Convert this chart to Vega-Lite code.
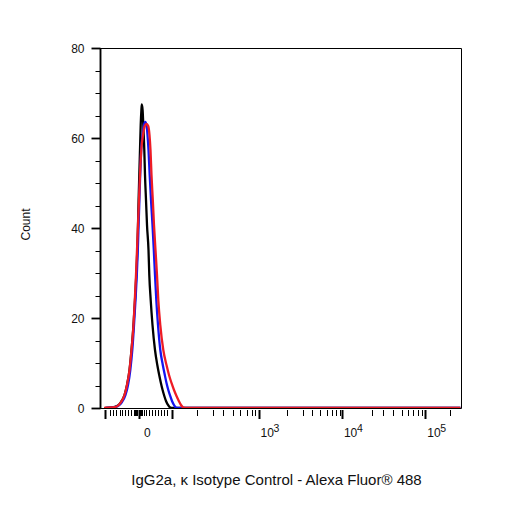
{
  "$schema": "https://vega.github.io/schema/vega-lite/v6.json",
  "width": 361,
  "height": 360,
  "autosize": "none",
  "padding": {"left": 100, "top": 48, "right": 45, "bottom": 98},
  "background": "white",
  "config": {
    "view": {"stroke": "#000000", "strokeWidth": 1},
    "font": "Liberation Sans",
    "axis": {"labelFont": "Liberation Sans", "titleFont": "Liberation Sans", "labelColor": "#111111", "titleColor": "#111111", "titleFontWeight": "normal", "grid": false, "tickColor": "#000000", "domainColor": "#000000"}
  },
  "data": {
    "values": [
      {"series": "black", "x": 1.1595, "count": 0},
      {"series": "black", "x": 1.2434, "count": 0.11},
      {"series": "black", "x": 1.3034, "count": 0.44},
      {"series": "black", "x": 1.3513, "count": 1.33},
      {"series": "black", "x": 1.3933, "count": 2.89},
      {"series": "black", "x": 1.4233, "count": 5.11},
      {"series": "black", "x": 1.4532, "count": 8.44},
      {"series": "black", "x": 1.4772, "count": 12.89},
      {"series": "black", "x": 1.5012, "count": 18.44},
      {"series": "black", "x": 1.5192, "count": 24},
      {"series": "black", "x": 1.5348, "count": 29.56},
      {"series": "black", "x": 1.5468, "count": 35.11},
      {"series": "black", "x": 1.5552, "count": 40.67},
      {"series": "black", "x": 1.5624, "count": 46.22},
      {"series": "black", "x": 1.5707, "count": 51.78},
      {"series": "black", "x": 1.5791, "count": 57.33},
      {"series": "black", "x": 1.5875, "count": 62.89},
      {"series": "black", "x": 1.5959, "count": 66.22},
      {"series": "black", "x": 1.6007, "count": 67.44},
      {"series": "black", "x": 1.6103, "count": 66.22},
      {"series": "black", "x": 1.6187, "count": 62.89},
      {"series": "black", "x": 1.6307, "count": 57.33},
      {"series": "black", "x": 1.6391, "count": 51.78},
      {"series": "black", "x": 1.6511, "count": 46.22},
      {"series": "black", "x": 1.6631, "count": 40.67},
      {"series": "black", "x": 1.6811, "count": 35.11},
      {"series": "black", "x": 1.6906, "count": 29.56},
      {"series": "black", "x": 1.7074, "count": 24},
      {"series": "black", "x": 1.729, "count": 18.44},
      {"series": "black", "x": 1.759, "count": 12.89},
      {"series": "black", "x": 1.7866, "count": 9.56},
      {"series": "black", "x": 1.8094, "count": 7.33},
      {"series": "black", "x": 1.8297, "count": 5.56},
      {"series": "black", "x": 1.8501, "count": 4},
      {"series": "black", "x": 1.8705, "count": 2.67},
      {"series": "black", "x": 1.8909, "count": 1.56},
      {"series": "black", "x": 1.9149, "count": 0.67},
      {"series": "black", "x": 1.9424, "count": 0.11},
      {"series": "black", "x": 1.9748, "count": 0},
      {"series": "black", "x": 5.42, "count": 0},
      {"series": "blue", "x": 1.1715, "count": 0},
      {"series": "blue", "x": 1.2554, "count": 0.11},
      {"series": "blue", "x": 1.3153, "count": 0.44},
      {"series": "blue", "x": 1.3633, "count": 1.33},
      {"series": "blue", "x": 1.4053, "count": 2.89},
      {"series": "blue", "x": 1.4353, "count": 5.11},
      {"series": "blue", "x": 1.4628, "count": 8.44},
      {"series": "blue", "x": 1.4868, "count": 12.89},
      {"series": "blue", "x": 1.5072, "count": 18.44},
      {"series": "blue", "x": 1.5252, "count": 24},
      {"series": "blue", "x": 1.5408, "count": 29.56},
      {"series": "blue", "x": 1.5528, "count": 35.11},
      {"series": "blue", "x": 1.5624, "count": 40.67},
      {"series": "blue", "x": 1.5719, "count": 46.22},
      {"series": "blue", "x": 1.5815, "count": 51.78},
      {"series": "blue", "x": 1.5935, "count": 57.33},
      {"series": "blue", "x": 1.6091, "count": 60.67},
      {"series": "blue", "x": 1.6271, "count": 62.89},
      {"series": "blue", "x": 1.6415, "count": 63.56},
      {"series": "blue", "x": 1.6571, "count": 62.89},
      {"series": "blue", "x": 1.6691, "count": 60.67},
      {"series": "blue", "x": 1.6811, "count": 57.33},
      {"series": "blue", "x": 1.6954, "count": 51.78},
      {"series": "blue", "x": 1.711, "count": 46.22},
      {"series": "blue", "x": 1.729, "count": 40.67},
      {"series": "blue", "x": 1.7446, "count": 35.11},
      {"series": "blue", "x": 1.759, "count": 29.56},
      {"series": "blue", "x": 1.7746, "count": 24},
      {"series": "blue", "x": 1.795, "count": 18.44},
      {"series": "blue", "x": 1.8225, "count": 12.89},
      {"series": "blue", "x": 1.8525, "count": 9.56},
      {"series": "blue", "x": 1.8765, "count": 7.33},
      {"series": "blue", "x": 1.8969, "count": 5.56},
      {"series": "blue", "x": 1.9185, "count": 4},
      {"series": "blue", "x": 1.9412, "count": 2.67},
      {"series": "blue", "x": 1.9628, "count": 1.56},
      {"series": "blue", "x": 1.9868, "count": 0.67},
      {"series": "blue", "x": 2.0108, "count": 0.11},
      {"series": "blue", "x": 2.0468, "count": 0},
      {"series": "blue", "x": 5.42, "count": 0},
      {"series": "red", "x": 1.1475, "count": 0},
      {"series": "red", "x": 1.2314, "count": 0.11},
      {"series": "red", "x": 1.2998, "count": 0.33},
      {"series": "red", "x": 1.3513, "count": 1.33},
      {"series": "red", "x": 1.3933, "count": 2.89},
      {"series": "red", "x": 1.4233, "count": 5.11},
      {"series": "red", "x": 1.4532, "count": 8.44},
      {"series": "red", "x": 1.4772, "count": 12.89},
      {"series": "red", "x": 1.5012, "count": 18.44},
      {"series": "red", "x": 1.5168, "count": 24},
      {"series": "red", "x": 1.5312, "count": 29.56},
      {"series": "red", "x": 1.5432, "count": 35.11},
      {"series": "red", "x": 1.5552, "count": 40.67},
      {"series": "red", "x": 1.5671, "count": 46.22},
      {"series": "red", "x": 1.5791, "count": 51.78},
      {"series": "red", "x": 1.5947, "count": 57.33},
      {"series": "red", "x": 1.6151, "count": 60.67},
      {"series": "red", "x": 1.6367, "count": 62.67},
      {"series": "red", "x": 1.6571, "count": 63.11},
      {"series": "red", "x": 1.6775, "count": 62.67},
      {"series": "red", "x": 1.693, "count": 60.67},
      {"series": "red", "x": 1.705, "count": 57.33},
      {"series": "red", "x": 1.717, "count": 51.78},
      {"series": "red", "x": 1.7326, "count": 46.22},
      {"series": "red", "x": 1.747, "count": 40.67},
      {"series": "red", "x": 1.765, "count": 35.11},
      {"series": "red", "x": 1.783, "count": 29.56},
      {"series": "red", "x": 1.7986, "count": 24},
      {"series": "red", "x": 1.8225, "count": 18.44},
      {"series": "red", "x": 1.8585, "count": 12.89},
      {"series": "red", "x": 1.8969, "count": 9.56},
      {"series": "red", "x": 1.9269, "count": 7.33},
      {"series": "red", "x": 1.9568, "count": 5.56},
      {"series": "red", "x": 1.9868, "count": 4},
      {"series": "red", "x": 2.0168, "count": 2.67},
      {"series": "red", "x": 2.0444, "count": 1.56},
      {"series": "red", "x": 2.0707, "count": 0.67},
      {"series": "red", "x": 2.1007, "count": 0.11},
      {"series": "red", "x": 2.1427, "count": 0},
      {"series": "red", "x": 5.42, "count": 0}
    ]
  },
  "resolve": {"axis": {"x": "independent", "y": "independent"}},
  "layer": [
    {
      "mark": {"type": "line", "interpolate": "monotone", "strokeWidth": 2.3, "clip": true},
      "encoding": {
        "x": {
          "field": "x",
          "type": "quantitative",
          "scale": {"domain": [1.0995, 5.428], "nice": false, "zero": false},
          "axis": {
            "orient": "bottom",
            "title": "IgG2a, κ Isotype Control - Alexa Fluor® 488",
            "titleFontSize": 15,
            "titleX": 176,
            "titleY": 75,
            "titleBaseline": "alphabetic",
            "titleAnchor": "middle",
            "values": [1.1631, 1.5612, 1.9592, 3, 4, 5],
            "labelExpr": "datum.value == 1.5612 ? '0' : (datum.value == 3 || datum.value == 4 || datum.value == 5) ? '10' : ''",
            "labelOverlap": false,
            "labelFontSize": 12,
            "labelAlign": "left",
            "labelOffset": {"condition": {"test": "datum.value == 1.5612", "value": 5}, "value": 1.5},
            "labelPadding": 9,
            "domain": false,
            "offset": 1.5,
            "tickSize": 9,
            "tickWidth": 2
          }
        },
        "y": {
          "field": "count",
          "type": "quantitative",
          "scale": {"domain": [0, 80], "nice": false},
          "axis": {
            "orient": "left",
            "title": "Count",
            "titleFontSize": 12,
            "titleX": -75,
            "titleY": 176,
            "titleAngle": -90,
            "titleBaseline": "middle",
            "titleAnchor": "middle",
            "values": [0, 5, 10, 15, 20, 25, 30, 35, 40, 45, 50, 55, 60, 65, 70, 75, 80],
            "labelExpr": "datum.value % 20 == 0 ? datum.label : ''",
            "labelOverlap": false,
            "labelFontSize": 12,
            "labelPadding": 11,
            "domainWidth": 1.5,
            "tickSize": 5,
            "tickWidth": 1
          }
        },
        "color": {
          "field": "series",
          "type": "nominal",
          "scale": {"domain": ["black", "blue", "red"], "range": ["#000000", "#1414f0", "#ee1c25"]},
          "legend": null
        }
      }
    },
    {
      "mark": {"type": "line", "opacity": 0},
      "encoding": {
        "x": {
          "field": "x",
          "type": "quantitative",
          "scale": {"domain": [1.0995, 5.428], "nice": false, "zero": false},
          "axis": {
            "orient": "bottom",
            "title": null,
            "values": [1.2158, 1.2554, 1.295, 1.3357, 1.3669, 1.4029, 1.4388, 1.4712, 1.5012, 1.5192, 1.5336, 1.5468, 1.5755, 1.5887, 1.6031, 1.6211, 1.6511, 1.6906, 1.7266, 1.7626, 1.795, 1.8309, 1.8669, 1.9065, 2.259, 2.458, 2.5779, 2.6978, 2.7782, 2.8585, 2.9185, 2.958, 3.3381, 3.5372, 3.6379, 3.7374, 3.8177, 3.8777, 3.9293, 3.9772, 4.3573, 4.4964, 4.6163, 4.717, 4.7962, 4.8561, 4.9161, 4.9568, 5.2962],
            "labels": false,
            "domain": false,
            "offset": 1.5,
            "tickSize": 6,
            "tickWidth": 1
          }
        },
        "y": {"field": "count", "type": "quantitative", "axis": null}
      }
    },
    {
      "mark": {"type": "line", "opacity": 0},
      "encoding": {
        "x": {
          "field": "x",
          "type": "quantitative",
          "scale": {"domain": [1.0995, 5.428], "nice": false, "zero": false},
          "axis": {
            "orient": "bottom",
            "title": null,
            "values": [3, 4, 5],
            "labelExpr": "format(datum.value, 'd')",
            "labelFontSize": 10.5,
            "labelAlign": "left",
            "labelOffset": 14.5,
            "labelPadding": 14,
            "labelOverlap": false,
            "domain": false,
            "ticks": false,
            "offset": 1.5
          }
        },
        "y": {"field": "count", "type": "quantitative", "axis": null}
      }
    },
    {
      "mark": {"type": "line", "opacity": 0},
      "encoding": {
        "x": {
          "field": "x",
          "type": "quantitative",
          "scale": {"domain": [1.0995, 5.428], "nice": false, "zero": false},
          "axis": null
        },
        "y": {
          "field": "count",
          "type": "quantitative",
          "scale": {"domain": [0, 80], "nice": false},
          "axis": {
            "orient": "left",
            "title": "major",
            "titleOpacity": 0,
            "values": [0, 20, 40, 60, 80],
            "labelOpacity": 0,
            "labelFontSize": 12,
            "domainWidth": 1.5,
            "tickSize": 9,
            "tickWidth": 1.8
          }
        }
      }
    }
  ]
}
